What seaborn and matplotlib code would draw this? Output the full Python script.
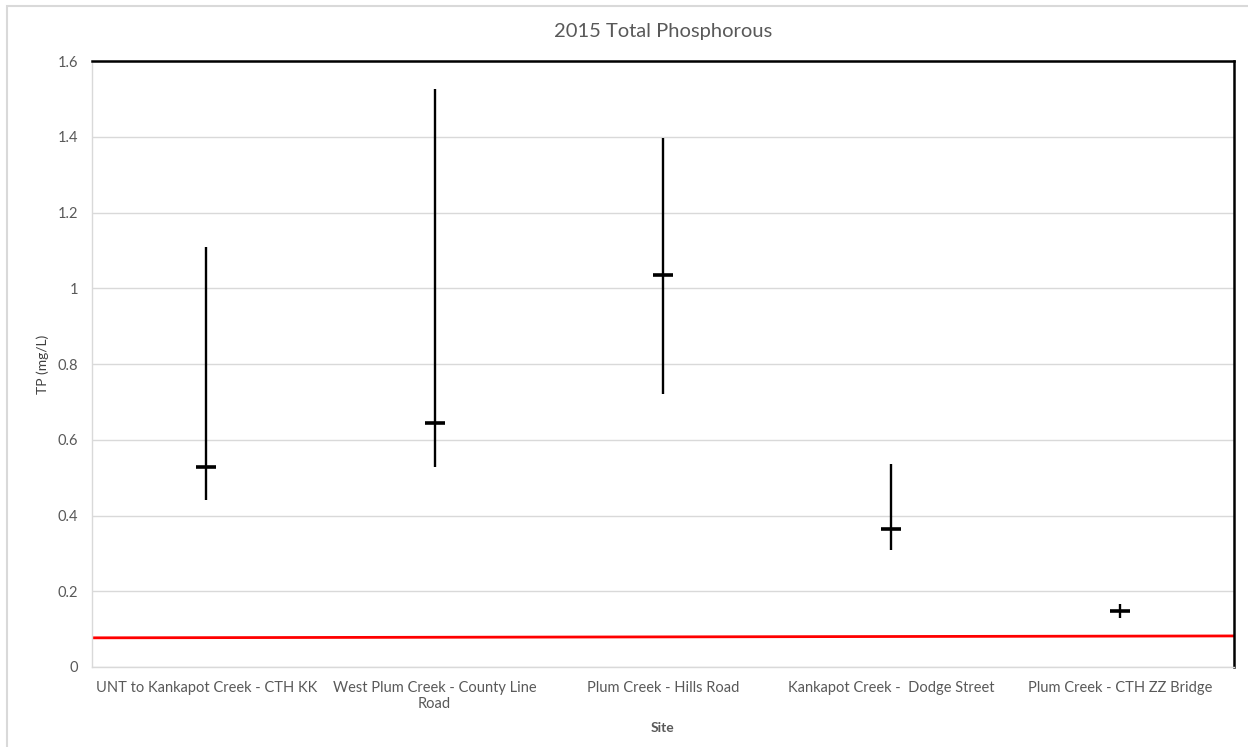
import matplotlib
matplotlib.use("Agg")
import matplotlib.pyplot as plt
import seaborn as sns
import pandas as pd
from matplotlib.ticker import FuncFormatter, MultipleLocator
from matplotlib.patches import Rectangle

sites = ["UNT to Kankapot Creek - CTH KK",
         "West Plum Creek - County Line\nRoad",
         "Plum Creek - Hills Road",
         "Kankapot Creek -  Dodge Street",
         "Plum Creek - CTH ZZ Bridge"]
tp_high = [1.11, 1.525, 1.397, 0.537, 0.166]
tp_low = [0.441, 0.528, 0.72, 0.31, 0.13]
tp_median = [0.528, 0.645, 1.035, 0.364, 0.148]
limit_line = [0.077, 0.082]

sns.set_theme(style="white")
plt.rcParams['font.family'] = ['Lato', 'DejaVu Sans']

df = pd.DataFrame({"Site": sites, "High": tp_high, "Low": tp_low, "Median": tp_median})

fig = plt.figure(figsize=(12.48, 7.47), dpi=100)
ax = fig.add_axes([0.0737, 0.1071, 0.9151, 0.8112])

# chart border
fig.patches.append(Rectangle((7/1248, -0.01), 1.1, 1 - 6/747 + 0.01, transform=fig.transFigure,
                             fill=False, edgecolor="#d9d9d9", linewidth=1.5, zorder=0))

ax.vlines(range(len(sites)), df["Low"], df["High"], color="black", linewidth=1.7, zorder=3)
sns.scatterplot(data=df, x="Site", y="Median", marker="_", s=220, color="black",
                linewidth=2.6, ax=ax, zorder=4)

ax.set_xlim(-0.5, len(sites) - 0.5)
ax.set_ylim(0, 1.6)
ax.plot(ax.get_xlim(), limit_line, color="#ff0000", linewidth=2, zorder=2)

ax.yaxis.set_major_locator(MultipleLocator(0.2))
ax.yaxis.set_major_formatter(FuncFormatter(lambda v, p: f"{v:g}"))
ax.grid(axis="y", color="#d9d9d9", linewidth=1)
ax.set_axisbelow(True)

for s in ["left", "bottom"]:
    ax.spines[s].set_color("#d9d9d9")
    ax.spines[s].set_linewidth(1)
for s in ["top", "right"]:
    ax.spines[s].set_color("black")
    ax.spines[s].set_linewidth(1.8)

ax.tick_params(axis="both", colors="#595959", labelsize=10.5, length=0, pad=10)
ax.tick_params(axis="y", pad=10)
ax.set_ylabel("TP (mg/L)", fontsize=10, color="#404040", labelpad=6)
ax.set_xlabel("Site", fontsize=10, fontweight="bold", color="#595959", labelpad=8)
ax.set_title("2015 Total Phosphorous", fontsize=14.5, color="#595959", pad=17)

fig.savefig("out.png", dpi=100)
